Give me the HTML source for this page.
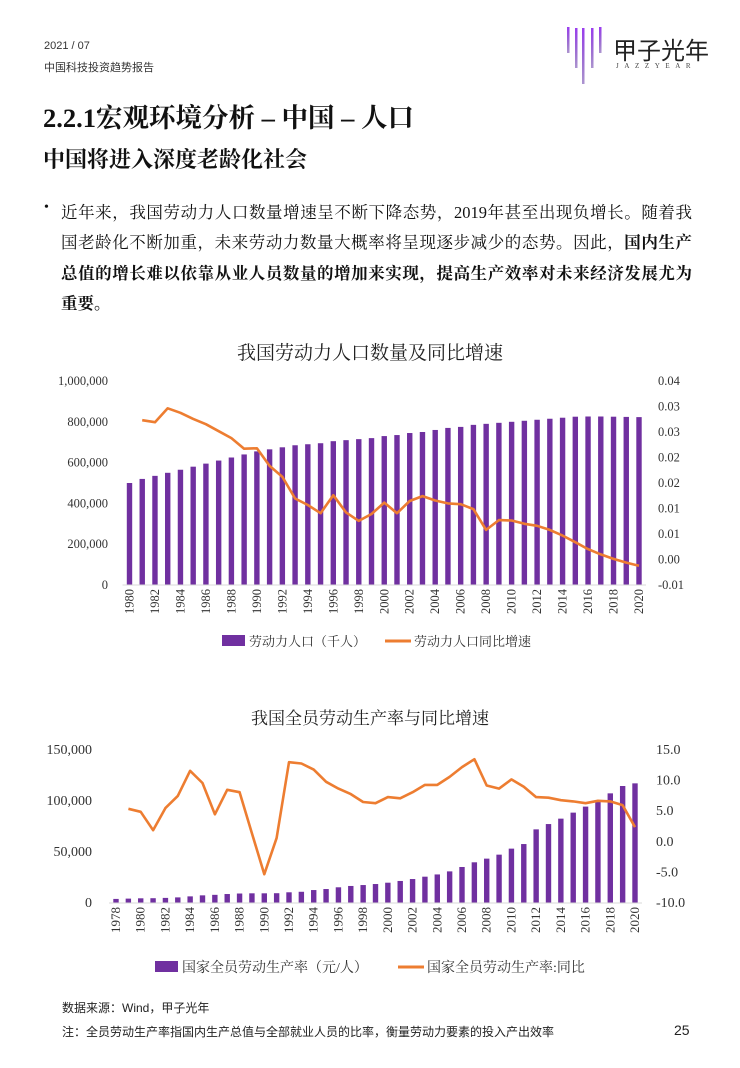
<!DOCTYPE html>
<html><head><meta charset="utf-8">
<style>
body{margin:0;background:#fff;}
#page{position:relative;width:740px;height:1068px;overflow:hidden;background:#fff;font-family:"Liberation Serif","Noto Serif CJK SC",serif;color:#111;}
.a{position:absolute;white-space:nowrap;}
.sans{font-family:"Liberation Sans","Noto Sans CJK SC",sans-serif;}
svg text{font-family:"Liberation Serif","Noto Serif CJK SC",serif;}
.ln{position:absolute;left:61px;width:631px;font-size:16.5px;white-space:nowrap;text-align:justify;text-align-last:justify;}
</style></head><body>
<div id="page">
<div class="a sans" style="left:44px;top:40px;font-size:11px;color:#333">2021 / 07</div>
<div class="a sans" style="left:44px;top:59px;font-size:11px;color:#333">中国科技投资趋势报告</div>
<svg class="a" style="left:560px;top:24px" width="50" height="62">
<defs><linearGradient id="lg" x1="0" y1="0" x2="0" y2="1"><stop offset="0" stop-color="#9b3df0"/><stop offset="1" stop-color="#5a2aa0" stop-opacity="0.5"/></linearGradient></defs>
<rect x="7" y="3" width="2.5" height="26" fill="url(#lg)"/><rect x="15" y="4" width="2.5" height="40" fill="url(#lg)"/><rect x="22" y="4" width="2.5" height="56" fill="url(#lg)"/><rect x="31" y="4" width="2.5" height="40" fill="url(#lg)"/><rect x="39" y="3" width="2.5" height="26" fill="url(#lg)"/>
</svg>
<div class="a sans" style="left:613px;top:31px;font-size:24px;color:#222">甲子光年</div>
<div class="a" style="left:616px;top:62px;font-size:7px;letter-spacing:5.6px;color:#444">JAZZYEAR</div>
<div class="a" style="left:43px;top:96px;font-size:26.5px;font-weight:bold">2.2.1宏观环境分析 – 中国 – 人口</div>
<div class="a" style="left:43px;top:143px;font-size:22px;font-weight:bold">中国将进入深度老龄化社会</div>
<div class="a" style="left:44px;top:200px;font-size:14px">•</div>
<div>
<div class="ln" style="top:199px">近年来，我国劳动力人口数量增速呈不断下降态势，2019年甚至出现负增长。随着我</div>
<div class="ln" style="top:229px">国老龄化不断加重，未来劳动力数量大概率将呈现逐步减少的态势。因此，<b>国内生产</b></div>
<div class="ln" style="top:260px"><b>总值的增长难以依靠从业人员数量的增加来实现，提高生产效率对未来经济发展尤为</b></div>
<div class="a" style="left:61px;top:290px;font-size:16.5px"><b>重要。</b></div>
</div>

<svg id="c1" class="a" style="left:0;top:330px" width="740" height="330"></svg>
<svg id="c2" class="a" style="left:0;top:700px" width="740" height="285"></svg>

<div class="a sans" style="left:62px;top:999px;font-size:12px;color:#222">数据来源：Wind，甲子光年</div>
<div class="a sans" style="left:62px;top:1023px;font-size:12px;color:#222">注：全员劳动生产率指国内生产总值与全部就业人员的比率，衡量劳动力要素的投入产出效率</div>
<div class="a sans" style="left:674px;top:1022px;font-size:14px;color:#222">25</div>
</div>
<script>
const years1=[];for(let y=1980;y<=2020;y++)years1.push(y);
const labor=[500,520,535,550,565,580,595,610,625,640,655,665,675,685,690,695,705,710,715,720,730,735,745,750,760,770,775,785,790,795,800,805,810,815,820,825,826,826,825,824,823].map(v=>v*1000);
const laborGrowth=[null,0.0304,0.0299,0.0333,0.0322,0.0307,0.0294,0.0277,0.0260,0.0234,0.0235,0.0192,0.0165,0.0112,0.0096,0.0076,0.0120,0.0078,0.0057,0.0074,0.0102,0.0076,0.0106,0.0118,0.0107,0.0100,0.0098,0.0086,0.0035,0.0059,0.0058,0.0050,0.0045,0.0035,0.0021,0.0005,-0.0012,-0.0025,-0.0036,-0.0045,-0.0053];
const leftTicks1=["0","200,000","400,000","600,000","800,000","1,000,000"];
const rightTicks1=["-0.01","0.00","0.01","0.01","0.02","0.02","0.03","0.03","0.04"];
const years2=[];for(let y=1978;y<=2020;y++)years2.push(y);
const prod=[4000,4300,4600,4700,5000,5500,6500,7500,8000,8800,9300,9500,9500,9600,10500,11000,12700,13700,15400,16700,17600,18600,19900,21600,23500,25800,28000,31000,35300,39900,43500,47400,53300,57800,72200,77400,82700,88600,94500,99400,107500,114700,117300];
const prodGrowth=[null,5.4,4.9,1.9,5.5,7.5,11.6,9.6,4.5,8.5,8.1,1.4,-5.3,0.6,13.0,12.8,11.8,9.8,8.7,7.8,6.5,6.3,7.3,7.1,8.1,9.3,9.3,10.6,12.2,13.5,9.2,8.7,10.2,9.0,7.3,7.2,6.8,6.6,6.3,6.7,6.6,6.0,2.4];
const leftTicks2=["0","50,000","100,000","150,000"];
const rightTicks2=["-10.0","-5.0","0.0","5.0","10.0","15.0"];
const NS='http://www.w3.org/2000/svg';
function mk(p,t,a,txt){const e=document.createElementNS(NS,t);for(const k in a)e.setAttribute(k,a[k]);if(txt!=null)e.textContent=txt;p.appendChild(e);return e;}

function chart(svg,o){
  const x=i=>o.x0+i*(o.x1-o.x0)/(o.years.length-1);
  const yl=v=>o.base-(v-o.lmin)/(o.lmax-o.lmin)*(o.base-o.top);
  const yr=v=>o.base-(v-o.rmin)/(o.rmax-o.rmin)*(o.base-o.top);
  let t=mk(svg,'text',{x:370,y:o.titleY,'text-anchor':'middle','font-size':o.titleSize,fill:'#222'},o.title);
  
  
  o.leftTicks.forEach((s,i)=>{const v=o.lmin+i*(o.lmax-o.lmin)/(o.leftTicks.length-1);
    const e=mk(svg,'text',{x:o.lx,y:yl(v)+4,'text-anchor':'end','font-size':o.tickSize,fill:'#333'},s);
    
    });
  o.rightTicks.forEach((s,i)=>{const v=o.rmin+i*(o.rmax-o.rmin)/(o.rightTicks.length-1);
    const e=mk(svg,'text',{x:o.rx,y:yr(v)+4,'text-anchor':'start','font-size':o.tickSize,fill:'#333'},s);
    
    });
  o.bars.forEach((v,i)=>{const b=mk(svg,'rect',{x:x(i)-2.7,y:yl(v),width:5.4,height:o.base-yl(v),fill:'#7030a0'});
    
    });
  const ax=mk(svg,'line',{x1:o.x0-7,x2:o.x1+7,y1:o.base,y2:o.base,stroke:'#d9d9d9','stroke-width':1});
  
  
  let d='';o.line.forEach((v,i)=>{if(v==null)return;d+=(d?'L':'M')+x(i).toFixed(1)+','+yr(v).toFixed(1);});
  const ln=mk(svg,'path',{d:d,fill:'none',stroke:'#ed7d31','stroke-width':2.6,'stroke-linejoin':'round'});
  
  
  o.years.forEach((yv,i)=>{if((yv-o.years[0])%2)return;
    const e=mk(svg,'text',{x:0,y:0,transform:`translate(${x(i)+4},${o.base+4}) rotate(-90)`,'text-anchor':'end','font-size':o.yearSize,fill:'#333'},String(yv));
    
    });
  const ls=mk(svg,'rect',{x:o.leg[0],y:o.legY-6,width:23,height:11,fill:'#7030a0'});
  
  
  const l1=mk(svg,'text',{x:o.leg[0]+27,y:o.legY+5,'font-size':o.legSize,fill:'#333'},o.legText[0]);
  
  
  const ll=mk(svg,'line',{x1:o.leg[1],x2:o.leg[1]+26,y1:o.legY,y2:o.legY,stroke:'#ed7d31','stroke-width':3});
  
  
  const l2=mk(svg,'text',{x:o.leg[1]+29,y:o.legY+5,'font-size':o.legSize,fill:'#333'},o.legText[1]);
  
  
}
chart(document.getElementById('c1'),{years:years1,bars:labor,line:laborGrowth,leftTicks:leftTicks1,rightTicks:rightTicks1,
 x0:129.5,x1:639,base:255,top:51,lmin:0,lmax:1000000,rmin:-0.01,rmax:0.04,lx:108,rx:658,tickSize:12.5,yearSize:12.5,
 title:'我国劳动力人口数量及同比增速',titleY:29,titleSize:19,leg:[222,385],legY:311,legSize:13,legText:['劳动力人口（千人）','劳动力人口同比增速']});
chart(document.getElementById('c2'),{years:years2,bars:prod,line:prodGrowth,leftTicks:leftTicks2,rightTicks:rightTicks2,
 x0:116,x1:635,base:203,top:50,lmin:0,lmax:150000,rmin:-10,rmax:15,lx:92,rx:656,tickSize:14,yearSize:13,
 title:'我国全员劳动生产率与同比增速',titleY:24,titleSize:17,leg:[155,398],legY:267,legSize:14,legText:['国家全员劳动生产率（元/人）','国家全员劳动生产率:同比']});
</script>
</body></html>
